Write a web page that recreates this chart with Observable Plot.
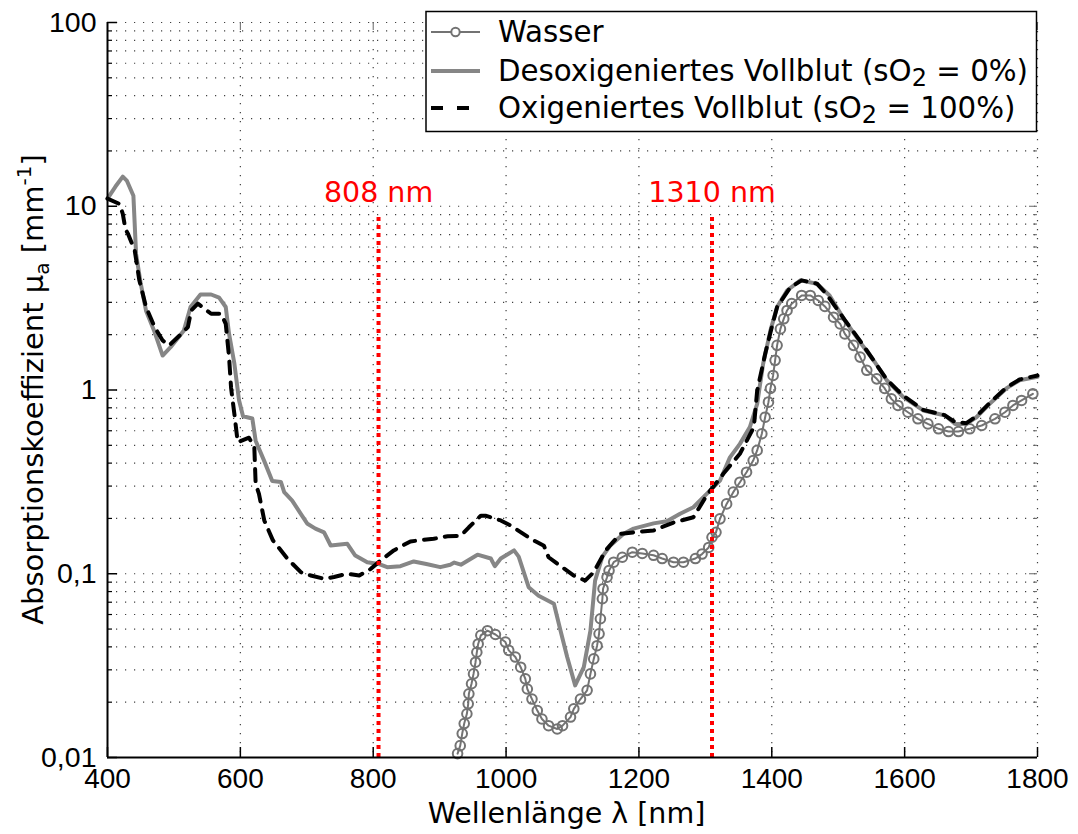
<!DOCTYPE html>
<html>
<head>
<meta charset="utf-8">
<script src="https://cdn.jsdelivr.net/npm/d3@7"></script>
<script src="https://cdn.jsdelivr.net/npm/@observablehq/plot@0.6"></script>
<style>
  body { margin: 0; background: #fff; }
  svg { display: block; }
</style>
</head>
<body>
<div id="chart"></div>
<script>
// Absorption coefficient spectra (mm^-1) over wavelength (nm)

// Water
const waterNm = [927, 931, 934, 937, 941, 943, 944, 948, 951, 954, 956, 958, 962, 972, 984, 999, 1004, 1014, 1022, 1029,
  1032, 1039, 1047, 1054, 1064, 1077, 1085, 1097, 1102, 1112, 1122, 1127, 1132, 1137, 1140, 1142, 1145, 1146, 1152, 1155,
  1162, 1175, 1190, 1205, 1222, 1235, 1252, 1267, 1285, 1295, 1305, 1310, 1316, 1322, 1332, 1342, 1352, 1362, 1372, 1378,
  1385, 1390, 1395, 1398, 1402, 1405, 1408, 1413, 1418, 1423, 1430, 1445, 1458, 1470, 1480, 1493, 1503, 1510, 1523, 1533,
  1543, 1558, 1570, 1580, 1590, 1605, 1620, 1635, 1651, 1666, 1681, 1698, 1716, 1736, 1751, 1763, 1776, 1793];
const waterMu = [0.0105, 0.0116, 0.0135, 0.0153, 0.0173, 0.0196, 0.0222, 0.0252, 0.0285, 0.033, 0.0374, 0.0415, 0.0462, 0.049, 0.0467, 0.0425, 0.0383, 0.0352, 0.031, 0.0268,
  0.0236, 0.0208, 0.018, 0.0162, 0.0149, 0.0143, 0.0149, 0.0166, 0.0184, 0.0208, 0.0232, 0.0285, 0.0344, 0.0406, 0.0471, 0.0569, 0.0731, 0.0829, 0.0957, 0.104,
  0.1156, 0.123, 0.131, 0.129, 0.126, 0.121, 0.1156, 0.1156, 0.121, 0.128, 0.139, 0.158, 0.168, 0.199, 0.240, 0.278, 0.315, 0.357, 0.413, 0.469,
  0.578, 0.711, 0.859, 1.02, 1.2, 1.45, 1.75, 2.15, 2.44, 2.71, 2.95, 3.27, 3.27, 3.07, 2.85, 2.49, 2.29, 2.02, 1.75, 1.51,
  1.28, 1.15, 1.02, 0.895, 0.824, 0.757, 0.697, 0.654, 0.615, 0.594, 0.594, 0.615, 0.641, 0.697, 0.757, 0.824, 0.877, 0.953];

// Deoxygenated whole blood (sO2 = 0%)
const deoxyNm = [400, 412, 423, 429, 439, 443, 450, 458, 470, 483, 495, 515, 525, 540, 556, 568, 578, 583, 591, 598,
  604, 618, 623, 636, 648, 661, 666, 678, 691, 701, 713, 726, 736, 761, 773, 791, 808, 821, 841, 861,
  880, 901, 916, 922, 932, 957, 977, 983, 992, 1012, 1019, 1034, 1049, 1072, 1082, 1092, 1104, 1117, 1127, 1134,
  1145, 1157, 1177, 1192, 1222, 1242, 1262, 1282, 1302, 1322, 1337, 1352, 1367, 1378, 1387, 1398, 1408, 1423, 1443, 1468,
  1487, 1510, 1533, 1555, 1573, 1598, 1628, 1661, 1676, 1693, 1708, 1728, 1753, 1773, 1800];
const deoxyMu = [11.0, 12.8, 14.5, 13.8, 11.4, 5.5, 3.8, 2.7, 2.11, 1.54, 1.71, 2.11, 2.83, 3.31, 3.31, 3.18, 2.83, 2.02, 1.39, 0.88,
  0.72, 0.70, 0.53, 0.41, 0.32, 0.316, 0.278, 0.25, 0.212, 0.187, 0.176, 0.168, 0.1425, 0.1455, 0.1256, 0.1155, 0.113, 0.1086, 0.110, 0.1167,
  0.113, 0.1086, 0.112, 0.115, 0.112, 0.127, 0.121, 0.110, 0.121, 0.134, 0.124, 0.0845, 0.076, 0.0686, 0.049, 0.0352, 0.0247, 0.031, 0.049, 0.0918,
  0.124, 0.1426, 0.165, 0.176, 0.188, 0.193, 0.212, 0.23, 0.272, 0.321, 0.43, 0.509, 0.628, 0.84, 1.39, 2.11, 2.83, 3.48, 3.95, 3.79,
  3.27, 2.39, 1.82, 1.42, 1.13, 0.914, 0.774, 0.726, 0.654, 0.654, 0.711, 0.841, 1.02, 1.13, 1.18];

// Oxygenated whole blood (sO2 = 100%)
const oxyNm = [400, 418, 423, 427, 431, 441, 448, 458, 471, 483, 493, 511, 521, 526, 536, 556, 571, 578, 583, 586,
  591, 596, 613, 621, 623, 628, 636, 649, 671, 691, 706, 726, 741, 761, 779, 796, 811, 831, 856, 891,
  912, 932, 944, 962, 969, 992, 1007, 1037, 1057, 1064, 1082, 1102, 1119, 1132, 1150, 1172, 1192, 1222, 1252, 1282,
  1302, 1327, 1352, 1373, 1378, 1390, 1400, 1408, 1428, 1445, 1468, 1483, 1510, 1533, 1555, 1573, 1598, 1628, 1660, 1676,
  1693, 1708, 1728, 1753, 1773, 1800];
const oxyMu = [11.0, 10.3, 9.1, 7.5, 7.07, 5.74, 3.94, 2.83, 2.2, 1.86, 1.75, 2.02, 2.2, 2.71, 2.95, 2.6, 2.6, 2.29, 1.51, 1.03,
  0.74, 0.52, 0.55, 0.49, 0.31, 0.272, 0.195, 0.152, 0.1206, 0.102, 0.0978, 0.0939, 0.096, 0.1, 0.0978, 0.106, 0.118, 0.134, 0.150, 0.155,
  0.160, 0.161, 0.179, 0.207, 0.207, 0.195, 0.183, 0.155, 0.142, 0.123, 0.110, 0.0978, 0.0918, 0.102, 0.134, 0.165, 0.168, 0.172, 0.190, 0.203,
  0.267, 0.35, 0.45, 0.628, 0.99, 1.57, 2.2, 2.83, 3.62, 3.95, 3.79, 3.3, 2.4, 1.85, 1.42, 1.14, 0.93, 0.78, 0.73, 0.668,
  0.66, 0.72, 0.85, 1.03, 1.14, 1.2];

// Laser wavelengths marked in the chart
const laserNm = [808, 1310];
const laserTopMu = 9.13;

// Axis ticks
const xTicks = [400, 600, 800, 1000, 1200, 1400, 1600, 1800];
const yMajor = [0.01, 0.1, 1, 10, 100];
const yMinorFactors = [2, 3, 4, 5, 6, 7, 8, 9];

const legendLabels = [
  ["Wasser"],
  ["Desoxigeniertes Vollblut (sO", "2", " = 0%)"],
  ["Oxigeniertes Vollblut (sO", "2", " = 100%)"]
];

const zip = (xs, ys) => xs.map((x, i) => ({nm: x, mu: ys[i]}));
const water = zip(waterNm, waterMu);
const deoxy = zip(deoxyNm, deoxyMu);
const oxy = zip(oxyNm, oxyMu);
const yMinor = yMajor.slice(0, -1).flatMap(d => yMinorFactors.map(k => +(k * d).toPrecision(3)));

const W = 1078, H = 834, mL = 107, mR = 41, mT = 22, mB = 77;
const frameW = W - mL - mR, frameH = H - mT - mB;
const FONT = "'DejaVu Sans', Verdana, sans-serif";
const TICKFONT = "'Liberation Sans', Arial, sans-serif";
const fmt = d => d >= 1 ? String(d) : String(d).replace(".", ",");
const dots = "1.2,7.8";

const chart = Plot.plot({
  width: W, height: H,
  marginLeft: mL, marginRight: mR, marginTop: mT, marginBottom: mB,
  style: {fontFamily: TICKFONT, background: "#fff", color: "#000"},
  x: {domain: [400, 1800]},
  y: {type: "log", domain: [0.01, 100]},
  marks: [
    // dotted grid
    Plot.ruleY([...yMajor.slice(1), ...yMinor], {stroke: "#000", strokeWidth: 1.2, strokeDasharray: dots, strokeOpacity: 0.75}),
    Plot.ruleX(xTicks.slice(1), {stroke: "#000", strokeWidth: 1.2, strokeDasharray: dots, strokeOpacity: 0.75}),
    // inward tick marks, bottom/left and mirrored top/right
    Plot.ruleX(xTicks, {insetTop: frameH - 10, stroke: "#000", strokeWidth: 1.5}),
    Plot.ruleX(xTicks, {insetBottom: frameH - 8, stroke: "#666", strokeWidth: 1}),
    Plot.ruleY(yMajor, {insetRight: frameW - 10, stroke: "#000", strokeWidth: 1.5}),
    Plot.ruleY(yMinor, {insetRight: frameW - 5, stroke: "#000", strokeWidth: 1.2}),
    Plot.ruleY(yMajor, {insetLeft: frameW - 8, stroke: "#666", strokeWidth: 1}),
    Plot.ruleY(yMinor, {insetLeft: frameW - 4, stroke: "#666", strokeWidth: 1}),
    // spectra
    Plot.line(water, {x: "nm", y: "mu", stroke: "#737373", strokeWidth: 2}),
    Plot.dot(water, {x: "nm", y: "mu", r: 4.8, stroke: "#737373", strokeWidth: 2, fill: "none"}),
    Plot.line(deoxy, {x: "nm", y: "mu", stroke: "#868686", strokeWidth: 4, strokeLinejoin: "round"}),
    Plot.line(oxy, {x: "nm", y: "mu", stroke: "#000", strokeWidth: 4, strokeDasharray: "12,9"}),
    // laser wavelengths
    Plot.ruleX(laserNm, {y1: 0.01, y2: laserTopMu, stroke: "#ff0000", strokeWidth: 4, strokeDasharray: "4,4"}),
    Plot.text(laserNm, {x: d => d, y: laserTopMu, text: d => `${d} nm`, dy: -21, fill: "#ff0000",
      fontSize: 28.5, fontFamily: FONT}),
    // axis lines
    Plot.ruleX([400], {stroke: "#000", strokeWidth: 2}),
    Plot.ruleY([0.01], {stroke: "#000", strokeWidth: 2}),
    // tick labels
    Plot.axisX(xTicks, {tickSize: 0, tickPadding: 11, fontSize: 28, label: null, tickFormat: d => String(d)}),
    Plot.axisY(yMajor, {tickSize: 0, tickPadding: 11, fontSize: 28.5, label: null, tickFormat: fmt}),
    // x axis title
    Plot.text(["Wellenlänge λ [nm]"], {text: d => d, frameAnchor: "bottom", dy: 65, dx: -6,
      fontSize: 28.5, fontFamily: FONT})
  ]
});

document.getElementById("chart").appendChild(chart);

const svg = d3.select(chart);

// y axis title with subscript and superscript
const yt = svg.append("text")
  .attr("transform", `translate(43,${mT + frameH / 2}) rotate(-90)`)
  .attr("text-anchor", "middle")
  .attr("font-family", FONT)
  .attr("font-size", 29)
  .attr("fill", "#000");
yt.append("tspan").text("Absorptionskoeffizient µ");
yt.append("tspan").attr("font-size", 20).attr("dy", 6).text("a");
yt.append("tspan").attr("dy", -6).text(" [mm");
yt.append("tspan").attr("font-size", 20).attr("dy", -12).text("-1");
yt.append("tspan").attr("dy", 12).text("]");

// legend box
const lg = svg.append("g")
  .attr("font-family", FONT)
  .attr("font-size", 29.3)
  .attr("text-anchor", "start");
lg.append("rect")
  .attr("x", 426).attr("y", 11.5).attr("width", 610.5).attr("height", 120)
  .attr("fill", "#fff").attr("stroke", "#000").attr("stroke-width", 1.5);

const rowY = [32, 71, 108];
const sx0 = 431, sx1 = 480, tx = 498;
// sample: water
lg.append("line").attr("x1", sx0).attr("x2", sx1).attr("y1", rowY[0]).attr("y2", rowY[0])
  .attr("stroke", "#737373").attr("stroke-width", 2);
lg.append("circle").attr("cx", (sx0 + sx1) / 2).attr("cy", rowY[0]).attr("r", 4.2)
  .attr("fill", "#fff").attr("stroke", "#737373").attr("stroke-width", 2);
// sample: deoxygenated
lg.append("line").attr("x1", sx0).attr("x2", sx1).attr("y1", rowY[1]).attr("y2", rowY[1])
  .attr("stroke", "#868686").attr("stroke-width", 4);
// sample: oxygenated
lg.append("line").attr("x1", sx0).attr("x2", sx0 + 38).attr("y1", rowY[2]).attr("y2", rowY[2])
  .attr("stroke", "#000").attr("stroke-width", 4).attr("stroke-dasharray", "12,14");

legendLabels.forEach((parts, i) => {
  const t = lg.append("text").attr("x", tx).attr("y", rowY[i] + 10).attr("fill", "#000");
  t.append("tspan").text(parts[0]);
  if (parts.length > 1) {
    t.append("tspan").attr("dy", 5).attr("font-size", 24).text(parts[1]);
    t.append("tspan").attr("dy", -5).text(parts[2]);
  }
});
</script>
</body>
</html>
